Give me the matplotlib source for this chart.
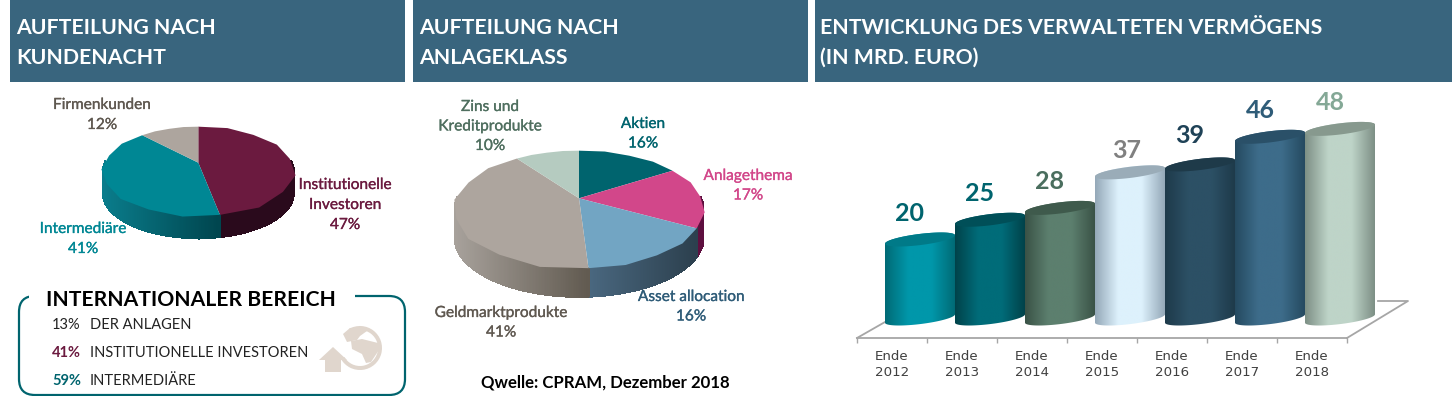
import numpy as np
import matplotlib
matplotlib.use("Agg")
import matplotlib.pyplot as plt
import matplotlib.patheffects as pe
from matplotlib.transforms import Transform
from matplotlib.path import Path
from matplotlib.patches import Rectangle, FancyBboxPatch, Polygon, Wedge
from matplotlib.collections import PolyCollection
from matplotlib.colors import LinearSegmentedColormap, to_rgb

# ---------- data ----------
client_labels = ["Institutionelle\nInvestoren", "Intermediäre", "Firmenkunden"]
client_values = [47, 41, 12]
asset_labels = ["Aktien", "Anlagethema", "Asset allocation", "Geldmarktprodukte", "Zins und\nKreditprodukte"]
asset_values = [16, 17, 16, 41, 10]
years = ["Ende\n2012", "Ende\n2013", "Ende\n2014", "Ende\n2015", "Ende\n2016", "Ende\n2017", "Ende\n2018"]
aum_values = [20, 25, 28, 37, 39, 46, 48]
headers = ["AUFTEILUNG NACH\nKUNDENACHT", "AUFTEILUNG NACH\nANLAGEKLASS",
           "ENTWICKLUNG DES VERWALTETEN VERMÖGENS\n(IN MRD. EURO)"]
intl_title = "INTERNATIONALER BEREICH"
intl_pct = ["13%", "41%", "59%"]
intl_text = ["DER ANLAGEN", "INSTITUTIONELLE INVESTOREN", "INTERMEDIÄRE"]
source_text = "Qwelle: CPRAM, Dezember 2018"

# ---------- styles ----------
W, H = 1452, 396
HEAD = "#39657E"
client_colors = ["#6B1A3F", "#008794", "#ADA59E"]
client_text = ["#6B1A3F", "#008794", "#5F5850"]
client_side = [("#2A0A1C", "#2A0A1C"), ("#0A7D8C", "#00454E"), ("#8A847E", "#6A645E")]
asset_colors = ["#00646E", "#D2478A", "#72A5C3", "#ADA59E", "#B5CBC0"]
asset_text = ["#00646E", "#D2478A", "#2F5C78", "#5F5850", "#4F6F5F"]
asset_side = [("#00464E", "#00464E"), ("#5E0F3F", "#5E0F3F"), ("#4A6880", "#2C404E"),
              ("#A8A29C", "#615A50"), ("#8A9A90", "#8A9A90")]
bar_edge = ["#006A75", "#00424A", "#3A5246", "#94A8B8", "#1E3A4A", "#254A60", "#7D8F85"]
bar_mid = ["#0097AA", "#006C79", "#5C7F6E", "#DDF1FC", "#2C5065", "#3D6C8A", "#BED4C8"]
bar_top = ["#007A88", "#004F58", "#3F5A4C", "#9AACB8", "#1E3A49", "#2A5068", "#87998E"]
val_col = ["#00646E", "#00646E", "#4A6E5E", "#808080", "#1F4257", "#2F5C78", "#84A896"]
val_dx = [-7.2, -7.2, -7.2, -2.2, -7.2, -7.2, -7.2]
val_dy = [19.0, 19.0, 19.0, 15.5, 21.0, 19.0, 19.0]

plt.rcParams["font.family"] = ["Lato", "DejaVu Sans"]
fig = plt.figure(figsize=(W / 100, H / 100), dpi=100, facecolor="white")


def px_axes(x0, y0, x1, y1, **kw):
    """axes covering a pixel box; y0 is the upper edge in image coordinates"""
    return fig.add_axes([x0 / W, 1 - y1 / H, (x1 - x0) / W, (y1 - y0) / H], **kw)


# ---------- overlay in image pixels ----------
ov = px_axes(0, 0, W, H)
ov.set_xlim(0, W)
ov.set_ylim(H, 0)
ov.axis("off")
for x0, x1 in [(10, 405), (413, 808), (815, 1452)]:
    ov.add_patch(Rectangle((x0, 0), x1 - x0, 82, fc=HEAD, ec="none"))
for x, t in zip([16, 419, 820], headers):
    a, b = t.split("\n")
    ov.text(x, 28, a, color="white", fontsize=15.3, fontweight="bold", va="center")
    ov.text(x, 58, b, color="white", fontsize=15.3, fontweight="bold", va="center")

# international box
ov.add_patch(FancyBboxPatch((19, 296), 386, 99, boxstyle="round,pad=0,rounding_size=16",
                            fc="none", ec="#00646E", lw=1.6))
ov.add_patch(Rectangle((29, 290), 326, 12, fc="white", ec="none", zorder=3))
ov.text(46, 300, intl_title, fontsize=15.2, fontweight="bold", color="black", va="center", zorder=4)
for y, p, t, c, w in zip([325, 353, 381], intl_pct, intl_text, ["#222222", "#6B1A3F", "#00646E"],
                         ["normal", "bold", "bold"]):
    ov.text(52, y, p, fontsize=10.5, color=c, fontweight=w, va="center")
    ov.text(90, y, t, fontsize=10.5, color="#222222", va="center")
ov.text(605, 383, source_text, fontsize=12.1, fontweight="bold", color="black", ha="center", va="center")

# globe icon
ICON = "#E0D6CD"
ov.add_patch(Wedge((360, 348), 22, -120, 150, width=4, fc=ICON, ec="none"))
ov.add_patch(Polygon([(343, 334), (350, 328), (362, 327), (367, 331), (360, 336), (357, 340), (347, 342)],
                     fc=ICON, ec="none"))
ov.add_patch(Polygon([(351, 341), (362, 339), (378, 343), (379, 350), (371, 362), (366, 363), (362, 354), (352, 349)],
                     fc=ICON, ec="none"))
ov.add_patch(Polygon([(333, 347), (347, 360), (341, 360), (341, 372), (325, 372), (325, 360), (319, 360)],
                     fc=ICON, ec="none"))

# floor of the bar chart
FL = "#A6A6A6"
ov.plot([857, 885], [338, 322], color=FL, lw=1.3)
ov.plot([1347, 1408, 1378], [338, 301, 301], color=FL, lw=1.3)


# ---------- pies ----------
class Perspective(Transform):
    input_dims = output_dims = 2
    has_inverse = False

    def __init__(self, sx, sy, k):
        super().__init__()
        self.sx, self.sy, self.k = sx, sy, k

    def transform_non_affine(self, v):
        v = np.asarray(v, float)
        d = 1 + self.k * v[:, 1]
        return np.column_stack([self.sx * v[:, 0] / d, self.sy * v[:, 1] / d])

    def transform_path_non_affine(self, path):
        polys = path.to_polygons(closed_only=True)
        verts = np.concatenate(polys)
        return Path(self.transform_non_affine(verts))


def pie3d(apex, sx, sy, k, depth, values, colors, sides):
    ax = px_axes(apex[0] - 140, apex[1] - 70, apex[0] + 140, apex[1] + 110)
    ax.patch.set_alpha(0)
    wedges, _ = ax.pie(values, colors=colors, startangle=90, counterclock=False,
                       wedgeprops=dict(linewidth=0))
    ax.set_aspect("auto")
    ax.set_xlim(-140, 140)
    ax.set_ylim(-110, 70)
    T = Perspective(sx, sy, k)
    for w, (cl, cr) in zip(wedges, sides):
        w.set_transform(T + ax.transData)
        w.set_zorder(5)
        th = np.radians(np.linspace(w.theta1, w.theta2, 240))
        th = th[np.sin(th) < 0.03]
        if th.size < 2:
            continue
        pts = T.transform_non_affine(np.column_stack([np.cos(th), np.sin(th)]))
        px = pts[:, 0]
        f = (px - px.min()) / max(np.ptp(px), 1e-6)
        c0, c1 = np.array(to_rgb(cl)), np.array(to_rgb(cr))
        order = np.argsort(px)
        p, ff = pts[order], f[order]
        quads, cols = [], []
        for i in range(len(p) - 1):
            quads.append([p[i], p[i + 1], p[i + 1] - [0, depth], p[i] - [0, depth]])
            cols.append(c0 + (c1 - c0) * ff[i])
        ax.add_collection(PolyCollection(quads, facecolors=cols, edgecolors=cols, linewidths=1.0,
                                         antialiaseds=False, zorder=2))
    return ax


pie3d((198.3, 162.7), 93.5, 43, 0.1937, 22, client_values, client_colors, client_side)
pie3d((579, 198.3), 122, 56.7, 0.1905, 28.3, asset_values, asset_colors, asset_side)

heavy = lambda c: [pe.withStroke(linewidth=0.2, foreground=c)]
client_pos = [(345, 185), (83, 229), (102, 105)]
for (x, y), lab, v, c in zip(client_pos, client_labels, client_values, client_text):
    for i, s in enumerate(lab.split("\n") + [f"{v}%"]):
        ov.text(x, y + i * 20, s, color=c, fontsize=11.1, ha="center", va="center", zorder=6,
                path_effects=heavy(c))
asset_pos = [(643, 124), (748, 176), (691, 297), (501, 313), (490, 107)]
for (x, y), lab, v, c in zip(asset_pos, asset_labels, asset_values, asset_text):
    for i, s in enumerate(lab.split("\n") + [f"{v}%"]):
        ov.text(x, y + i * 19.5, s, color=c, fontsize=11.1, ha="center", va="center", zorder=6,
                path_effects=heavy(c))

# ---------- bars ----------
X0, DX, Y0, DY = 920, 70, 318.5, 3.95
ax = px_axes(850, 85, 1420, 338)
ax.patch.set_alpha(0)
xs = np.arange(len(aum_values))
bars = ax.bar(xs, aum_values, width=1.0, color="none", linewidth=0)
xlim = ((850 - X0) / DX, (1420 - X0) / DX)
ylim = ((Y0 - 338) / DY, (Y0 - 85) / DY)

t = np.linspace(0, 2 * np.pi, 121)
A, B, S = 0.5, 5.6 / DY, 4.2 / DY   # half width, half height and shear of the ellipse, in data units


def ell(cx, cy, tt):
    return np.column_stack([cx + A * np.cos(tt), cy + B * np.sin(tt) + S * np.cos(tt)])


for i, b in enumerate(bars):
    cx = b.get_x() + b.get_width() / 2
    h = b.get_height()
    z = 3 + i
    low = ell(cx, 0, np.linspace(np.pi, 2 * np.pi, 60))
    up = ell(cx, h, np.linspace(0, np.pi, 60))
    body = Polygon(np.vstack([low, up]), closed=True, fc="none", ec="none", transform=ax.transData)
    ax.add_patch(body)
    cmap = LinearSegmentedColormap.from_list("c", [bar_edge[i], bar_mid[i], bar_mid[i], bar_edge[i]])
    im = ax.imshow(np.linspace(0, 1, 256)[None, :], extent=[cx - 0.5, cx + 0.5, -4, h + 4], aspect="auto",
                   cmap=cmap, interpolation="bilinear", zorder=z)
    im.set_clip_path(body)
    ax.add_patch(Polygon(ell(cx, h, t), closed=True, fc=bar_top[i], ec="none", zorder=z + 0.5))
    ax.annotate(str(aum_values[i]), xy=(cx, h), xytext=(val_dx[i], val_dy[i]), textcoords="offset points",
                ha="center", va="center", fontsize=18, fontweight="bold", color=val_col[i], zorder=20)

ax.set_xlim(xlim)
ax.set_ylim(ylim)
for s in ["top", "left", "right"]:
    ax.spines[s].set_visible(False)
ax.spines["bottom"].set_color(FL)
ax.spines["bottom"].set_linewidth(1.3)
ax.spines["bottom"].set_bounds(-0.9, 6.1)
ax.set_yticks([])
ax.set_xticks(xs - 0.4)
ax.set_xticklabels(years, fontfamily="DejaVu Sans", fontsize=9.6, color="#404040", linespacing=1.3)
ax.set_xticks(np.arange(len(xs) + 1) - 0.9, minor=True)
ax.tick_params(axis="x", which="major", length=0, pad=8.5)
ax.tick_params(axis="x", which="minor", length=3.5, color=FL, width=1)

fig.savefig("out.png", dpi=100)
